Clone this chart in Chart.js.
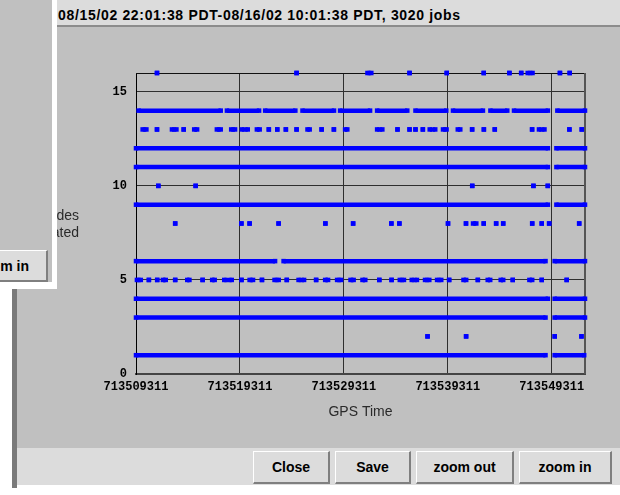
<!DOCTYPE html>
<html>
<head>
<meta charset="utf-8">
<script src="https://cdn.jsdelivr.net/npm/chart.js@4.4.1/dist/chart.umd.min.js"></script>
<style>
  html, body { margin: 0; padding: 0; width: 620px; height: 495px; overflow: hidden; background: #fff; }
  .abs { position: absolute; }
  #frame { left: 17px; top: 0; width: 603px; height: 485px; background: #c0c0c0; }
  #edge { left: 12px; top: 0; width: 5px; height: 488px; background: #7a7a7a; }
  #titlebar { left: 17px; top: 0; width: 603px; height: 25px; background: #dcdcdc; border-bottom: 2px solid #8c8c8c; }
  #titletext { left: 58px; top: 8px; font: bold 14px "Liberation Sans", Arial, sans-serif; line-height: 14px; letter-spacing: 0.67px; color: #000; white-space: nowrap; }
  #buttonbar { left: 17px; top: 448px; width: 603px; height: 37px; background: #dcdcdc; }
  .btn { position: absolute; box-sizing: border-box; height: 33px; background: #dcdcdc;
         border-style: solid; border-width: 1px 2px 2px 1px; border-color: #fff #7f7f7f #7f7f7f #fff;
         font: bold 14px "Liberation Sans", Arial, sans-serif; color: #000; text-align: center;
         line-height: 30px; white-space: nowrap; overflow: hidden; }
  #chart { position: absolute; left: 0; top: 0; }
  #side { left: 0; top: 0; width: 52px; height: 282px; background: #c0c0c0; overflow: hidden; }
  #sideR { left: 52px; top: 0; width: 5px; height: 289px; background: #fff; }
  #sideB { left: 0; top: 282px; width: 57px; height: 7px; background: #fff; }
</style>
</head>
<body>
<div id="edge" class="abs"></div>
<div id="frame" class="abs"></div>
<div id="titlebar" class="abs"></div>
<div id="titletext" class="abs">08/15/02 22:01:38 PDT-08/16/02 10:01:38 PDT, 3020 jobs</div>
<div id="buttonbar" class="abs"></div>
<div class="btn" style="left:253px;top:451px;width:77px;">Close</div>
<div class="btn" style="left:335px;top:451px;width:76px;">Save</div>
<div class="btn" style="left:416px;top:451px;width:98px;">zoom out</div>
<div class="btn" style="left:519px;top:451px;width:93px;">zoom in</div>
<canvas id="chart" width="620" height="495"></canvas>
<div id="side" class="abs">
  <div class="btn" style="left:-42px;top:250px;width:90px;height:32px;">zoom in</div>
</div>
<div id="sideR" class="abs"></div>
<div id="sideB" class="abs"></div>

<script>
// Time window of the plot, in GPS seconds
const GPS_START = 713509311;   // 08/15/02 22:01:38 PDT
const GPS_END   = 713552511;   // 08/16/02 10:01:38 PDT

const xTickValues = [713509311, 713519311, 713529311, 713539311, 713549311];
const yTickValues = [0, 5, 10, 15];

// Jobs per node count, as seconds after GPS_START.
// A number is a single job; a [start, end] pair is a run of back-to-back jobs.
const nodes1  = [[0, 39400], [40280, 43120]];
const nodes2  = [28050, 31760, 40290, 42860];
const nodes3  = [[0, 39400], [40280, 43200]];
const nodes4  = [[0, 39630], [40280, 43200]];
const nodes5  = [[90, 460], 1240, 2040, [2590, 2860], 3770, [4930, 5140], 6410, [7330, 7570],
                 [8490, 9210], 10150, [10930, 11260], 12120, [13330, 13730], 14510, [15640, 16170],
                 17330, [18200, 18480], [19350, 19730], [20640, 20940], [21790, 22060], 23410,
                 24590, [25380, 25780], [26530, 27030], [27810, 28220], [28970, 29370], 30130,
                 [31510, 31770], 32890, [33840, 34080], [35090, 35330], 36250, [37850, 38120],
                 39040, 41440];
const nodes6  = [[0, 13380], [14200, 39400], [40280, 43200]];
const nodes8  = [3770, 10140, 10930, 13720, 18220, 20890, 24570, 25340, 30020, 31750,
                 [32430, 32740], 33460, 34650, 35330, 38120, 39040, 39750, 42640];
const nodes9  = [[0, 39630], [40450, 43200]];
const nodes10 = [2150, 5740, 32350, 38240, 39620];
const nodes11 = [[0, 39630], [40450, 43200]];
const nodes12 = [[0, 39630], [40450, 43200]];
const nodes13 = [[640, 1000], 2020, [3460, 3890], 4590, [5600, 5880], [7780, 8150], [9160, 9530],
                 [10190, 10750], [11630, 11900], 12780, 13590, 14420, 15450, [16500, 16710], 17860,
                 19040, [20120, 20330], [23200, 23700], 25160, 26320, 26890, 27600, [28260, 28790],
                 [29540, 29880], [30960, 31200], 32340, 33470, 34520, 38110, [38770, 39300],
                 41700, 42890];
const nodes14 = [[250, 8150], [8750, 11840], [12430, 15330], [16020, 19050], [19640, 22520],
                 [23200, 26100], [26890, 29850], [30500, 33380], [34100, 35720], [36370, 39630],
                 [40540, 43200]];
const nodes16 = [2020, 15450, [22270, 22640], 26320, 29900, 33460, 35930, 37060, [37690, 38150],
                 40790, 41730];

const rows = [
  [1, nodes1], [2, nodes2], [3, nodes3], [4, nodes4], [5, nodes5], [6, nodes6],
  [8, nodes8], [9, nodes9], [10, nodes10], [11, nodes11], [12, nodes12],
  [13, nodes13], [14, nodes14], [16, nodes16]
];

// Each run becomes a stroked segment; a null point breaks the line between runs.
function rowPoints(n, jobs) {
  const pts = [];
  jobs.forEach(j => {
    const [s, e] = Array.isArray(j) ? j : [j, j];
    pts.push({ x: GPS_START + s, y: n }, { x: GPS_START + e, y: n }, { x: GPS_START + e, y: null });
  });
  return pts;
}

const BLUE = '#0000ff';
const datasets = rows.map(([n, jobs]) => ({
  label: n + ' nodes',
  data: rowPoints(n, jobs),
  showLine: true,
  spanGaps: false,
  borderColor: BLUE,
  borderWidth: 4.5,
  borderCapStyle: 'butt',
  backgroundColor: BLUE,
  pointStyle: 'rect',
  pointRadius: 3.2,
  pointBorderWidth: 0,
  pointBackgroundColor: BLUE,
  clip: false
}));

// Frame around the plot area and the horizontal two-line axis caption
const plotFrame = {
  id: 'plotFrame',
  beforeDatasetsDraw(chart) {
    const { ctx, chartArea: a } = chart;
    ctx.save();
    ctx.strokeStyle = '#111';
    ctx.lineWidth = 1;
    ctx.beginPath();
    ctx.moveTo(a.left, Math.round(a.top) + 0.5);
    ctx.lineTo(a.right, Math.round(a.top) + 0.5);
    ctx.stroke();
    ctx.strokeStyle = '#555';
    ctx.lineWidth = 2;
    ctx.beginPath();
    ctx.moveTo(Math.round(a.right), a.top);
    ctx.lineTo(Math.round(a.right), a.bottom);
    ctx.stroke();
    ctx.restore();
  },
  afterDraw(chart) {
    const { ctx } = chart;
    ctx.save();
    ctx.font = '14px "Liberation Sans", Arial, sans-serif';
    ctx.fillStyle = '#2a2a2a';
    ctx.textAlign = 'right';
    ctx.textBaseline = 'alphabetic';
    ctx.fillText('Nodes', 79, 220);
    ctx.fillText('Allocated', 79, 237);
    ctx.restore();
  }
};

const tickFont = { family: '"Liberation Mono", monospace', weight: 'bold', size: 12 };

new Chart(document.getElementById('chart'), {
  type: 'scatter',
  data: { datasets },
  options: {
    responsive: false,
    devicePixelRatio: 1,
    animation: false,
    events: [],
    layout: { padding: { left: 0, top: 73, right: 35, bottom: 0 } },
    plugins: { legend: { display: false }, tooltip: { enabled: false } },
    scales: {
      x: {
        type: 'linear',
        position: 'bottom',
        min: GPS_START,
        max: GPS_END,
        z: 1,
        afterBuildTicks: s => { s.ticks = xTickValues.map(v => ({ value: v })); },
        afterFit: s => { s.height = 121; },
        grid: {
          drawTicks: false,
          lineWidth: 1,
          color: c => (c.index === 0 ? 'rgba(0,0,0,0)' : '#2e2e2e')
        },
        border: { display: true, color: '#444', width: 2 },
        ticks: {
          font: tickFont, color: '#000', padding: 6, maxRotation: 0, autoSkip: false,
          callback: v => String(v)
        },
        title: {
          display: true, text: 'GPS Time', color: '#2a2a2a',
          font: { family: '"Liberation Sans", Arial, sans-serif', size: 14 },
          padding: { top: 0, bottom: 74 }
        }
      },
      y: {
        type: 'linear',
        position: 'left',
        min: 0,
        max: 16,
        afterBuildTicks: s => { s.ticks = yTickValues.map(v => ({ value: v })); },
        afterFit: s => { s.width = 136; },
        grid: { drawTicks: false, lineWidth: 1, color: '#2e2e2e' },
        border: { display: true, color: '#000', width: 1 },
        ticks: { font: tickFont, color: '#000', padding: 9, callback: v => String(v) }
      }
    }
  },
  plugins: [plotFrame]
});
</script>
</body>
</html>
